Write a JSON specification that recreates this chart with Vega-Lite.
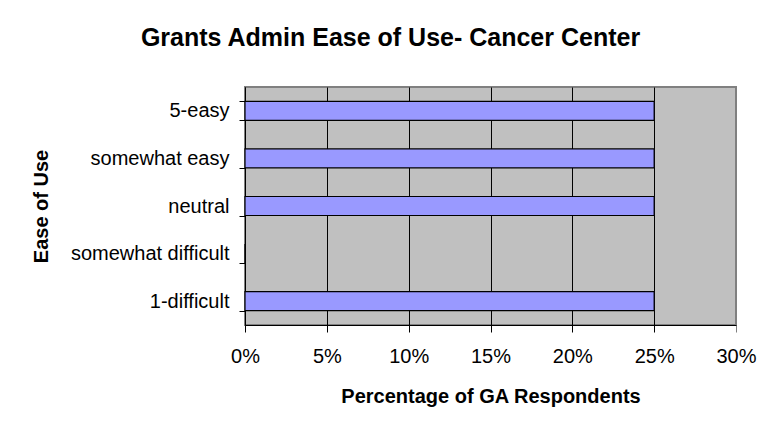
{
  "$schema": "https://vega.github.io/schema/vega-lite/v6.json",
  "autosize": {"type": "none"},
  "width": 491,
  "height": 238,
  "padding": {"left": 245, "top": 87, "right": 43, "bottom": 103},
  "background": "white",
  "title": {
    "text": "Grants Admin Ease of Use- Cancer Center",
    "font": "Liberation Sans",
    "fontSize": 25,
    "fontWeight": "bold",
    "color": "black",
    "anchor": "middle",
    "dx": -100,
    "offset": 26
  },
  "data": {
    "values": [
      {"rating": "5-easy", "pct": 0.25},
      {"rating": "somewhat easy", "pct": 0.25},
      {"rating": "neutral", "pct": 0.25},
      {"rating": "somewhat difficult", "pct": 0},
      {"rating": "1-difficult", "pct": 0.25}
    ]
  },
  "mark": {"type": "bar", "color": "#9999FF", "stroke": "black", "strokeWidth": 1.2},
  "encoding": {
    "y": {
      "field": "rating",
      "type": "nominal",
      "sort": ["5-easy", "somewhat easy", "neutral", "somewhat difficult", "1-difficult"],
      "scale": {"paddingInner": 0.6, "paddingOuter": 0.3},
      "axis": {
        "title": "Ease of Use",
        "titleFont": "Liberation Sans",
        "titleFontSize": 20,
        "titleFontWeight": "bold",
        "titleColor": "black",
        "titlePadding": 19,
        "labelFont": "Liberation Sans",
        "labelFontSize": 20,
        "labelColor": "black",
        "labelPadding": 10,
        "tickBand": "extent",
        "tickColor": "black",
        "tickSize": 6,
        "domainColor": "black",
        "grid": false
      }
    },
    "x": {
      "field": "pct",
      "type": "quantitative",
      "scale": {"domain": [0, 0.3], "nice": false},
      "axis": {
        "title": "Percentage of GA Respondents",
        "format": "%",
        "values": [0, 0.05, 0.1, 0.15, 0.2, 0.25, 0.3],
        "labelFlush": false,
        "titleFont": "Liberation Sans",
        "titleFontSize": 20,
        "titleFontWeight": "bold",
        "titleColor": "black",
        "titlePadding": 20,
        "labelFont": "Liberation Sans",
        "labelFontSize": 20,
        "labelColor": "black",
        "labelPadding": 14,
        "tickColor": {"condition": {"test": "datum.value >= 0.3", "value": "#808080"}, "value": "black"},
        "tickSize": 7,
        "domainColor": "black",
        "grid": true,
        "gridColor": {"condition": {"test": "datum.value >= 0.3", "value": "#808080"}, "value": "black"},
        "gridOpacity": 1
      }
    }
  },
  "config": {
    "view": {"fill": "#C0C0C0", "stroke": "#808080", "strokeWidth": 2}
  }
}
